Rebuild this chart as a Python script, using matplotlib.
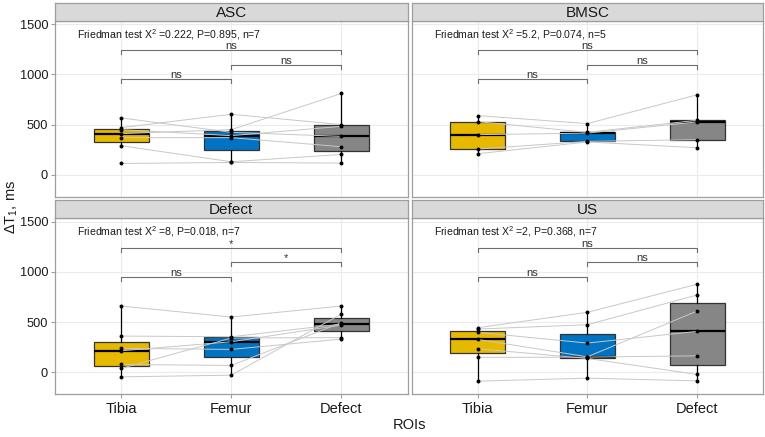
import matplotlib
matplotlib.use("Agg")
import matplotlib.pyplot as plt
import numpy as np

plt.rcParams['font.family'] = ['Liberation Sans', 'DejaVu Sans']
plt.rcParams['mathtext.fontset'] = 'custom'
plt.rcParams['mathtext.rm'] = 'Liberation Sans'
plt.rcParams['mathtext.it'] = 'Liberation Sans:italic'

# ---------------- data ----------------
rois = ["Tibia", "Femur", "Defect"]
panels = ["ASC", "BMSC", "Defect", "US"]

asc_tibia = [567, 470, 450, 410, 370, 290, 113]
asc_femur = [423, 603, 390, 450, 370, 130, 123]
asc_defect = [383, 500, 483, 810, 280, 203, 117]

bmsc_tibia = [590, 530, 400, 257, 210]
bmsc_femur = [510, 423, 415, 333, 327]
bmsc_defect = [797, 543, 527, 350, 270]

def_tibia = [660, 360, -47, 77, 237, 213, 37]
def_femur = [550, 353, -30, 67, 227, 303, 340]
def_defect = [660, 480, 580, 493, 330, 470, 345]

us_tibia = [443, 430, 397, 327, 233, 147, -90]
us_femur = [597, 473, 290, 153, 137, 150, -60]
us_defect = [877, 770, 407, 610, -23, 163, -87]

friedman = [
    r"Friedman test X$^\mathregular{2}$ =0.222, P=0.895, n=7",
    r"Friedman test X$^\mathregular{2}$ =5.2, P=0.074, n=5",
    r"Friedman test X$^\mathregular{2}$ =8, P=0.018, n=7",
    r"Friedman test X$^\mathregular{2}$ =2, P=0.368, n=7",
]
# comparisons: (i, j, label)
comparisons = [
    [(0, 1, "ns"), (1, 2, "ns"), (0, 2, "ns")],
    [(0, 1, "ns"), (1, 2, "ns"), (0, 2, "ns")],
    [(0, 1, "ns"), (1, 2, "*"), (0, 2, "*")],
    [(0, 1, "ns"), (1, 2, "ns"), (0, 2, "ns")],
]
bracket_y = [950, 1095, 1240]

panel_data = [
    [asc_tibia, asc_femur, asc_defect],
    [bmsc_tibia, bmsc_femur, bmsc_defect],
    [def_tibia, def_femur, def_defect],
    [us_tibia, us_femur, us_defect],
]

colors = ["#E7B800", "#0073C2", "#868686"]
border = "#9E9E9E"
W, H = 765, 437

fig = plt.figure(figsize=(W / 100, H / 100), dpi=100)

cols = [(55, 407.5), (411.7, 763)]
rows = [((2.7, 20.7), (20.7, 196.7)), ((200, 218.3), (218.3, 394))]

def rect(x0, x1, y0, y1):
    return [x0 / W, 1 - y1 / H, (x1 - x0) / W, (y1 - y0) / H]

for p in range(4):
    r, c = divmod(p, 2)
    (sy0, sy1), (py0, py1) = rows[r]
    x0, x1 = cols[c]
    ax = fig.add_axes(rect(x0, x1, py0, py1))
    sax = fig.add_axes(rect(x0, x1, sy0, sy1))
    sax.set_facecolor("#D9D9D9")
    sax.set_xticks([]); sax.set_yticks([])
    for s in sax.spines.values():
        s.set_color(border); s.set_linewidth(0.9)
    sax.text(0.5, 0.45, panels[p], ha="center", va="center", fontsize=11,
             color="#1A1A1A", transform=sax.transAxes)

    data = panel_data[p]
    pos = np.arange(1, 4)
    ax.set_xlim(0.4, 3.6)
    ax.set_ylim(-218, 1535)
    ax.set_axisbelow(True)
    ax.grid(True, color="#EBEBEB", lw=0.8)
    bp = ax.boxplot(data, positions=pos, widths=0.5, patch_artist=True,
                    showfliers=False, whis=1.5,
                    medianprops=dict(color="black", lw=1.6),
                    whiskerprops=dict(color="black", lw=0.9),
                    capprops=dict(lw=0),
                    boxprops=dict(edgecolor="#333333", lw=0.9), zorder=2)
    for patch, col in zip(bp["boxes"], colors):
        patch.set_facecolor(col)
    arr = np.array(data)
    for k in range(arr.shape[1]):
        ax.plot(pos, arr[:, k], color="#C8C8C8", lw=0.7, zorder=3)
    for i in range(3):
        ax.scatter(np.full(len(data[i]), pos[i]), data[i], s=8, color="black",
                   zorder=4, linewidths=0)
    # brackets
    for (i, j, lab), yb in zip(comparisons[p], bracket_y):
        ax.plot([pos[i], pos[i], pos[j], pos[j]], [yb - 40, yb, yb, yb - 40],
                color="#6E6E6E", lw=0.8, zorder=3)
        ax.text((pos[i] + pos[j]) / 2, yb + 12, lab, ha="center", va="baseline",
                fontsize=8, color="#333333")
    ax.text(0.6, 1400, friedman[p], ha="left", va="center", fontsize=7.6,
            color="#1A1A1A")

    ax.set_yticks([0, 500, 1000, 1500])
    ax.set_xticks(pos)
    for s in ax.spines.values():
        s.set_color(border); s.set_linewidth(0.9)
    ax.tick_params(axis="both", color=border, length=3, width=0.8,
                   labelcolor="#1A1A1A")
    ax.tick_params(axis="y", labelsize=9.2, pad=2)
    ax.tick_params(axis="x", labelsize=10.5, pad=3)
    if c == 0:
        ax.set_yticklabels(["0", "500", "1000", "1500"])
    else:
        ax.tick_params(axis="y", length=0, labelleft=False)
    if r == 1:
        ax.set_xticklabels(rois)
    else:
        ax.tick_params(axis="x", length=0, labelbottom=False)

fig.text(11.5 / W, 1 - 207 / H, r"ΔT$_\mathregular{1}$, ms", rotation=90,
         ha="center", va="center", fontsize=10.5, color="#1A1A1A")
fig.text(409 / W, 1 - 425 / H, "ROIs", ha="center", va="center", fontsize=10.5,
         color="#1A1A1A")

fig.savefig("out.png", dpi=100)
